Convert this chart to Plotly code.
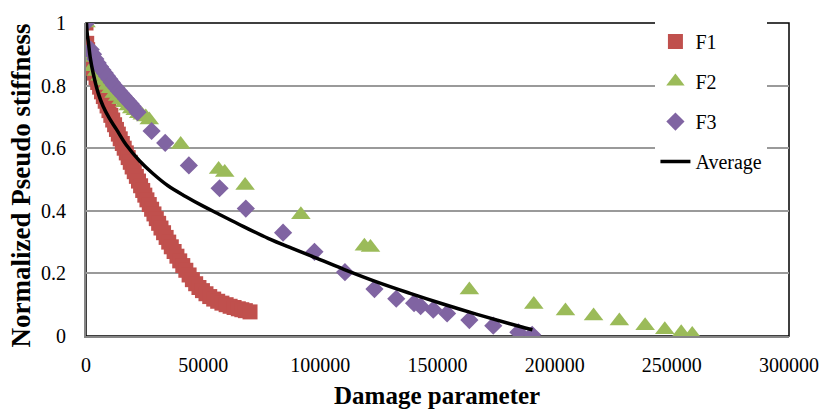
import plotly.graph_objects as go

# Damage parameter (x) and normalized pseudo stiffness (y) for each specimen
f1_damage = [0, 300, 700, 1200, 1700, 2300, 2900, 3600, 4300, 5000, 5800, 6600, 7400, 8200,
             9000, 9800, 10600, 11400, 12200, 13000, 13800, 14600, 15500, 16300, 17200, 18000,
             18900, 19700, 20600, 21500, 22400, 23300, 24200, 25100, 26000, 27000, 28000, 29000,
             30000, 31000, 32000, 33100, 34200, 35300, 36400, 37600, 38800, 40000, 41300, 42600,
             44000, 45400, 46800, 48200, 49700, 51200, 52800, 54500, 56200, 58000, 59800, 61500,
             63200, 65000, 66500, 68000, 70000]
f1_stiff = [1.000, 0.935, 0.915, 0.900, 0.885, 0.870, 0.855, 0.840, 0.825, 0.810, 0.795, 0.780,
            0.765, 0.750, 0.735, 0.720, 0.705, 0.690, 0.675, 0.660, 0.645, 0.630, 0.615, 0.600,
            0.585, 0.570, 0.555, 0.540, 0.525, 0.510, 0.495, 0.480, 0.465, 0.450, 0.435, 0.420,
            0.405, 0.390, 0.375, 0.360, 0.345, 0.330, 0.315, 0.300, 0.285, 0.270, 0.255, 0.240,
            0.225, 0.210, 0.195, 0.180, 0.167, 0.155, 0.145, 0.135, 0.126, 0.118, 0.111, 0.105,
            0.100, 0.095, 0.091, 0.087, 0.084, 0.081, 0.077]

f2_damage = [0, 1500, 3000, 4500, 6000, 7500, 9000, 10500, 12000, 13500, 15000, 16500, 18000,
             19500, 21000, 22500, 24000, 25500, 27000, 40400, 56600, 59200, 67900, 91700, 118800,
             121400, 163600, 191100, 204600, 216600, 227600, 238600, 247000, 254000, 258700]
f2_stiff = [1.000, 0.890, 0.860, 0.845, 0.830, 0.815, 0.800, 0.790, 0.775, 0.765, 0.755, 0.745,
            0.735, 0.725, 0.720, 0.710, 0.705, 0.700, 0.690, 0.612, 0.532, 0.522, 0.481, 0.387,
            0.287, 0.283, 0.147, 0.101, 0.080, 0.064, 0.048, 0.033, 0.020, 0.010, 0.005]

f3_damage = [0, 2000, 3000, 4000, 5000, 6000, 7000, 8000, 9000, 10000, 11000, 12000, 13000,
             14000, 15000, 16000, 17000, 18000, 19000, 20000, 22000, 28000, 33800, 43900, 57000,
             68200, 84100, 97500, 110500, 123100, 132400, 140000, 142800, 148200, 154100, 163600,
             173800, 184500, 190400]
f3_stiff = [1.000, 0.915, 0.900, 0.885, 0.872, 0.860, 0.850, 0.840, 0.830, 0.820, 0.810, 0.800,
            0.792, 0.783, 0.775, 0.767, 0.758, 0.750, 0.742, 0.733, 0.715, 0.655, 0.617, 0.545,
            0.472, 0.407, 0.330, 0.269, 0.204, 0.150, 0.119, 0.105, 0.095, 0.084, 0.072, 0.051,
            0.033, 0.012, 0.004]

avg_damage = [200, 600, 1000, 1800, 3100, 5200, 7300, 10000, 13000, 17200, 22800, 28400, 35000,
              42500, 50000, 56000, 65000, 77700, 88000, 96000, 110000, 124000, 138000, 152000,
              166500, 180500, 190500]
avg_stiff = [1.000, 0.960, 0.940, 0.890, 0.838, 0.776, 0.734, 0.695, 0.660, 0.610, 0.560, 0.520,
             0.480, 0.446, 0.415, 0.392, 0.358, 0.312, 0.280, 0.256, 0.213, 0.173, 0.137, 0.103,
             0.070, 0.040, 0.020]

x_ticks = [0, 50000, 100000, 150000, 200000, 250000, 300000]
y_ticks = [0, 0.2, 0.4, 0.6, 0.8, 1]
y_tick_text = ["0", "0.2", "0.4", "0.6", "0.8", "1"]

FONT = "Liberation Serif, Times New Roman, serif"
RED, GREEN, PURPLE = "#C0504D", "#9BBB59", "#8064A2"

fig = go.Figure()
fig.add_trace(go.Scatter(x=f1_damage, y=f1_stiff, mode="markers", name="F1", legendgroup="f1",
                         marker=dict(symbol="square", size=15, color=RED)))
fig.add_trace(go.Scatter(x=f2_damage, y=f2_stiff, mode="markers", name="F2", legendgroup="f2",
                         marker=dict(symbol="triangle-up", size=17, color=GREEN)))
fig.add_trace(go.Scatter(x=f3_damage, y=f3_stiff, mode="markers", name="F3", legendgroup="f3",
                         marker=dict(symbol="diamond", size=14, color=PURPLE)))
fig.add_trace(go.Scatter(x=avg_damage, y=avg_stiff, mode="lines", name="Average", legendgroup="avg",
                         line=dict(color="black", width=3.5, shape="spline")))

# black plot-area frame; the gray axis lines sit on top of its left and bottom edges
fig.add_shape(type="rect", xref="paper", yref="paper", x0=0, y0=0, x1=1, y1=1,
              line=dict(color="black", width=1.5), layer="below")

fig.add_annotation(text="<b>Normalized Pseudo stiffness</b>", xref="paper", yref="paper",
                   x=-0.093, y=0.48, textangle=-90, showarrow=False,
                   xanchor="center", yanchor="middle", font=dict(family=FONT, size=27, color="black"))
fig.add_annotation(text="<b>Damage parameter</b>", xref="paper", yref="paper",
                   x=0.499, y=-0.19, showarrow=False,
                   xanchor="center", yanchor="middle", font=dict(family=FONT, size=25, color="black"))

fig.update_layout(
    width=831, height=414,
    margin=dict(l=86, r=35, t=14, b=78),
    paper_bgcolor="white", plot_bgcolor="white",
    font=dict(family=FONT, size=20, color="black"),
    showlegend=True,
    legend=dict(x=0.81, y=1.003, xanchor="left", yanchor="top", bgcolor="white",
                tracegroupgap=11, font=dict(family=FONT, size=20, color="black")),
    xaxis=dict(range=[0, 300000], tickvals=x_ticks, tickformat="d", showgrid=False,
               showline=True, linecolor="#868686", linewidth=2, zeroline=False,
               ticks="", ticklabelstandoff=10),
    yaxis=dict(range=[0, 1], tickvals=y_ticks, ticktext=y_tick_text, showgrid=True,
               gridcolor="#9a9a9a", gridwidth=1.5, showline=True, linecolor="#868686",
               linewidth=2, zeroline=False, ticks="", ticklabelstandoff=14),
)

fig.write_html("out.html")
